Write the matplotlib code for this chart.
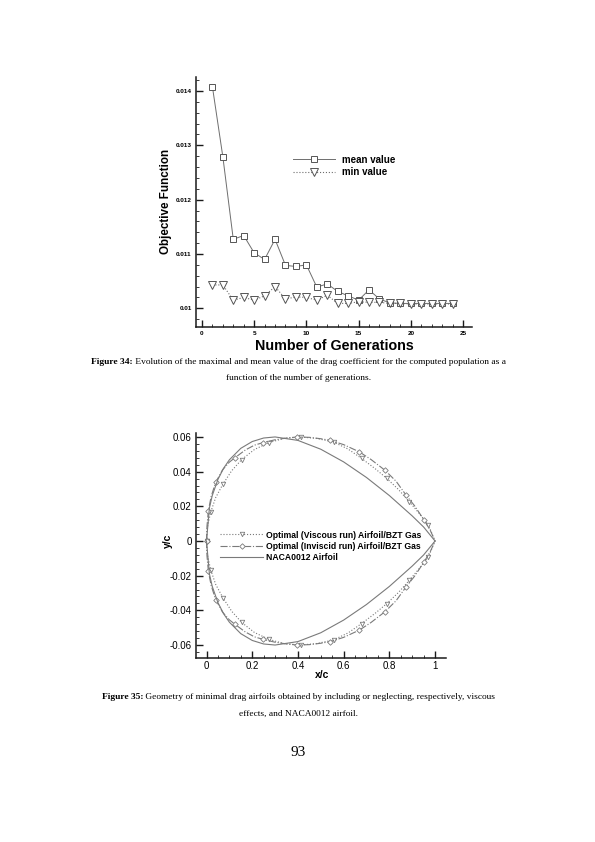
import matplotlib
matplotlib.use("Agg")
import matplotlib.pyplot as plt
import numpy as np
from matplotlib.ticker import MultipleLocator, FixedLocator, FixedFormatter

plt.rcParams['font.family'] = ['Liberation Sans', 'DejaVu Sans']
plt.rcParams['axes.unicode_minus'] = False

# ---------------- data: Figure 34 ----------------
generations = list(range(1, 25))
mean_value = [0.01408, 0.01279, 0.01127, 0.01134, 0.01102, 0.01090, 0.01127, 0.01079,
              0.01077, 0.01080, 0.01039, 0.01045, 0.01031, 0.01023, 0.01015, 0.01034,
              0.01017, 0.01010, 0.01009, 0.01009, 0.01009, 0.01009, 0.01009, 0.01009]
min_value = [0.01043, 0.01043, 0.01015, 0.01020, 0.01015, 0.01023, 0.01040, 0.01017,
             0.01021, 0.01020, 0.01015, 0.01024, 0.01009, 0.01009, 0.01012, 0.01011,
             0.01011, 0.01009, 0.01009, 0.01008, 0.01008, 0.01008, 0.01008, 0.01008]
f34_xticks = [0, 5, 10, 15, 20, 25]
f34_xticklabels = ["0", "5", "10", "15", "20", "25"]
f34_yticks = [0.010, 0.011, 0.012, 0.013, 0.014]
f34_yticklabels = ["0.01", "0.011", "0.012", "0.013", "0.014"]

# ---------------- data: Figure 35 (upper surfaces, symmetric) ----------------
naca_x = [0.0, 0.0125, 0.025, 0.05, 0.075, 0.1, 0.15, 0.2, 0.25, 0.3, 0.4, 0.5,
          0.6, 0.7, 0.8, 0.9, 0.95, 1.0]
naca_y = [0.0, 0.01894, 0.02615, 0.03555, 0.04200, 0.04683, 0.05345, 0.05737,
          0.05941, 0.06002, 0.05803, 0.05294, 0.04563, 0.03664, 0.02623, 0.01448,
          0.00807, 0.0]
inv_x = [0.0, 0.002, 0.008, 0.02, 0.04, 0.07, 0.10, 0.125, 0.17, 0.21, 0.249, 0.30,
         0.35, 0.395, 0.45, 0.50, 0.54, 0.60, 0.669, 0.72, 0.781, 0.83, 0.873, 0.91,
         0.952, 0.98, 1.0]
inv_y = [0.0, 0.0085, 0.0173, 0.0255, 0.0338, 0.0410, 0.0455, 0.0481, 0.0525, 0.0553,
         0.0568, 0.0584, 0.0594, 0.0600, 0.0598, 0.0590, 0.0581, 0.0556, 0.0514, 0.0470,
         0.0408, 0.0344, 0.0265, 0.0204, 0.0121, 0.0059, 0.0]
vis_x = [0.0, 0.004, 0.018, 0.04, 0.071, 0.11, 0.154, 0.21, 0.274, 0.34, 0.412, 0.48,
         0.556, 0.62, 0.679, 0.74, 0.789, 0.84, 0.888, 0.93, 0.971, 1.0]
vis_y = [0.0, 0.0080, 0.0165, 0.0250, 0.0326, 0.0405, 0.0470, 0.0528, 0.0568, 0.0592,
         0.0600, 0.0592, 0.0571, 0.0530, 0.0476, 0.0415, 0.0361, 0.0297, 0.0226, 0.0160,
         0.0092, 0.0]
f35_xticks = [0, 0.2, 0.4, 0.6, 0.8, 1.0]
f35_xticklabels = ["0", "0.2", "0.4", "0.6", "0.8", "1"]
f35_yticks = [-0.06, -0.04, -0.02, 0, 0.02, 0.04, 0.06]
f35_yticklabels = ["-0.06", "-0.04", "-0.02", "0", "0.02", "0.04", "0.06"]

W, H = 595, 842
fig = plt.figure(figsize=(5.95, 8.42), dpi=100)
fig.patch.set_facecolor("white")

def ax_rect(l, t, r, b):
    return [l / W, 1 - b / H, (r - l) / W, (b - t) / H]

LINE = "#6e6e6e"
AXC = "#1a1a1a"

def style_axes(ax, lw=1.1):
    for s in ("top", "right"):
        ax.spines[s].set_visible(False)
    for s in ("left", "bottom"):
        ax.spines[s].set_linewidth(lw)
        ax.spines[s].set_color(AXC)

# ---------------- Figure 34 axes ----------------
ax1 = fig.add_axes(ax_rect(196, 76.7, 472, 327))
style_axes(ax1)
ax1.plot(generations, mean_value, '-', color=LINE, lw=0.7, marker='s', ms=5.0,
         mfc='white', mec='#555555', mew=0.7, label='mean value')
ax1.plot(generations, min_value, ':', color=LINE, lw=0.8, marker='v', ms=5.5,
         mfc='white', mec='#555555', mew=0.7, label='min value')
ax1.set_xlim(-0.57, 25.86)
ax1.set_ylim(0.009656, 0.014263)
ax1.xaxis.set_major_locator(FixedLocator(f34_xticks))
ax1.xaxis.set_major_formatter(FixedFormatter(f34_xticklabels))
ax1.xaxis.set_minor_locator(MultipleLocator(1))
ax1.yaxis.set_major_locator(FixedLocator(f34_yticks))
ax1.yaxis.set_major_formatter(FixedFormatter(f34_yticklabels))
ax1.yaxis.set_minor_locator(MultipleLocator(0.0002))
ax1.tick_params(which='major', direction='in', length=5, width=1.0, color=AXC,
                labelsize=4.6, pad=3)
ax1.tick_params(which='minor', direction='in', length=2.5, width=0.6, color=AXC)
for lab in ax1.get_xticklabels() + ax1.get_yticklabels():
    lab.set_fontweight('bold')
ax1.set_xlabel("Number of Generations", fontsize=10.3, fontweight='bold')
ax1.set_ylabel("Objective Function", fontsize=8.4, fontweight='bold')
ax1.yaxis.set_label_coords((166 - 196) / 276, 0.5)
ax1.xaxis.set_label_coords(0.5, -(345.5 - 327) / 250.3)
ax1.xaxis.label.set_va('center')
ax1.yaxis.label.set_va('center')
leg1 = ax1.legend(loc='upper left', bbox_to_anchor=((292.7 - 196) / 276, (327 - 154.5) / 250.3),
                  frameon=False, fontsize=7, handlelength=4.4, handletextpad=0.7,
                  labelspacing=0.25, borderpad=0, borderaxespad=0, numpoints=1)
for t in leg1.get_texts():
    t.set_fontweight('bold')

# ---------------- Figure 35 axes ----------------
ax2 = fig.add_axes(ax_rect(196, 433, 446, 658))
style_axes(ax2)
GREY2 = "#7a7a7a"
vis_mark = [0, 2, 4, 6, 8, 10, 12, 14, 16, 18, 20]
inv_mark = [0, 2, 4, 7, 10, 13, 16, 18, 20, 22, 24]
ax2.plot(vis_x, vis_y, ':', color=GREY2, lw=0.8, marker='v', ms=3.2, mfc='white',
         mec=GREY2, mew=0.6, markevery=vis_mark, label='Optimal (Viscous run) Airfoil/BZT Gas')
ax2.plot(inv_x, inv_y, '-.', color=GREY2, lw=0.8, marker='D', ms=2.8, mfc='white',
         mec=GREY2, mew=0.6, markevery=inv_mark, label='Optimal (Inviscid run) Airfoil/BZT Gas')
ax2.plot(naca_x, naca_y, '-', color=GREY2, lw=0.8, label='NACA0012 Airfoil')
ax2.plot(vis_x, [-v for v in vis_y], ':', color=GREY2, lw=0.8, marker='v', ms=3.2,
         mfc='white', mec=GREY2, mew=0.6, markevery=vis_mark)
ax2.plot(inv_x, [-v for v in inv_y], '-.', color=GREY2, lw=0.8, marker='D', ms=2.8,
         mfc='white', mec=GREY2, mew=0.6, markevery=inv_mark)
ax2.plot(naca_x, [-v for v in naca_y], '-', color=GREY2, lw=0.8)
ax2.set_xlim(-0.046, 1.048)
ax2.set_ylim(-0.0675, 0.0623)
ax2.xaxis.set_major_locator(FixedLocator(f35_xticks))
ax2.xaxis.set_major_formatter(FixedFormatter(f35_xticklabels))
ax2.xaxis.set_minor_locator(MultipleLocator(0.05))
ax2.yaxis.set_major_locator(FixedLocator(f35_yticks))
ax2.yaxis.set_major_formatter(FixedFormatter(f35_yticklabels))
ax2.yaxis.set_minor_locator(MultipleLocator(0.004))
ax2.tick_params(which='major', direction='in', length=5, width=1.0, color=AXC,
                labelsize=7, pad=3)
ax2.tick_params(axis='x', which='major', pad=2)
ax2.tick_params(which='minor', direction='in', length=2.5, width=0.6, color=AXC)
ax2.set_xlabel("x/c", fontsize=7.5, fontweight='bold')
ax2.set_ylabel("y/c", fontsize=7.5, fontweight='bold')
ax2.xaxis.set_label_coords((322 - 196) / 250, -(674.5 - 658) / 225)
ax2.yaxis.set_label_coords((168 - 196) / 250, (658 - 541) / 225)
ax2.xaxis.label.set_va('center')
ax2.yaxis.label.set_va('center')
leg2 = ax2.legend(loc='upper left', bbox_to_anchor=((220 - 196) / 250, (658 - 530.5) / 225),
                  frameon=False, fontsize=6.2, handlelength=5.0, handletextpad=0.4,
                  labelspacing=0.28, borderpad=0, borderaxespad=0, numpoints=1)
for t in leg2.get_texts():
    t.set_fontweight('bold')

# ---------------- captions ----------------
SERIF = ['Liberation Serif', 'DejaVu Serif']
CAP = 6.75
renderer = fig.canvas.get_renderer()

def caption_line(y_px, bold, rest, cx=298.5):
    t1 = fig.text(0, 1 - y_px / H, bold, family=SERIF, fontsize=CAP, fontweight='bold',
                  va='center', ha='left')
    t2 = fig.text(0, 1 - y_px / H, rest, family=SERIF, fontsize=CAP, va='center', ha='left')
    w1 = t1.get_window_extent(renderer).width
    w2 = t2.get_window_extent(renderer).width
    x0 = cx - (w1 + w2) / 2
    t1.set_x(x0 / W)
    t2.set_x((x0 + w1) / W)

caption_line(362, "Figure 34:", " Evolution of the maximal and mean value of the drag coefficient for the computed population as a")
fig.text(298.5 / W, 1 - 378 / H, "function of the number of generations.", family=SERIF,
         fontsize=CAP, ha='center', va='center')
caption_line(697, "Figure 35:", " Geometry of minimal drag airfoils obtained by including or neglecting, respectively, viscous")
fig.text(298.5 / W, 1 - 714 / H, "effects, and NACA0012 airfoil.", family=SERIF,
         fontsize=CAP, ha='center', va='center')
fig.text(298.5 / W, 1 - 752 / H, "93", family=SERIF, fontsize=11, ha='center', va='center')

fig.savefig("out.png", dpi=100, facecolor='white')
